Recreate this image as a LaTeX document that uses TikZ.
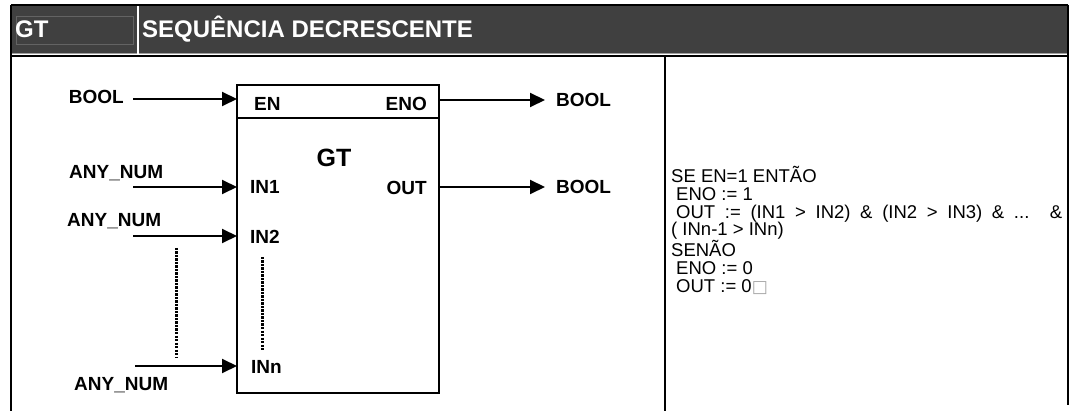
\documentclass[tikz,border=0pt]{standalone}
\usepackage{fontspec}
\setmainfont{Liberation Sans}
\newfontfamily\symbfont{DejaVu Sans}
\usetikzlibrary{arrows.meta}
\definecolor{headgray}{HTML}{404040}

\begin{document}
\begin{tikzpicture}[x=1pt,y=-1pt,>={Triangle[length=15pt,width=14pt]},
    lbl/.style={font=\fontsize{19}{19}\selectfont\bfseries,inner sep=0pt},
    head/.style={white,font=\fontsize{24}{24}\selectfont\bfseries,inner sep=0pt,anchor=base west},
    wire/.style={->,line width=2pt},
    frame/.style={line width=2pt},
    dots/.style={line width=3pt,dash pattern=on 2.2pt off 1.3pt}]
    \useasboundingbox (0,0) rectangle (1075,411);
    % header bar
    \fill[headgray] (11,5) rectangle (1068,54);
    \draw[gray!75,line width=1pt] (11,53.5) -- (1068,53.5);
    \draw[gray!55!headgray,line width=0.7pt] (16,16) rectangle (133,44);
    \draw[white,line width=2pt] (138,5) -- (138,55);
    \node[head] (hname) at (15,38) {GT};
    \node[head] (htitle) at (142,38) {SEQUÊNCIA DECRESCENTE};
    % table lines
    \draw[line width=1.5pt] (11,5) -- (1068,5);
    \draw[frame] (11,56) -- (1068,56);
    \draw[frame] (11,5) -- (11,411);
    \draw[frame] (1068,5) -- (1068,405);
    \draw[frame] (665,56) -- (665,411);
    % the block
    \draw[frame] (237,85) rectangle (439,393);
    \draw[frame] (237,118) -- (439,118);
    \node[lbl,font=\fontsize{25}{25}\selectfont\bfseries,anchor=base] (bname) at (334,167) {GT};
    \node[lbl,anchor=base west] (pen) at (254,111) {EN};
    \node[lbl,anchor=base east] (peno) at (427,111) {ENO};
    \node[lbl,anchor=base west] (pin1) at (250,194) {IN1};
    \node[lbl,anchor=base east] (pout) at (427,195) {OUT};
    \node[lbl,anchor=base west] (pin2) at (250,244) {IN2};
    \node[lbl,anchor=base west] (pinn) at (251,373) {INn};
    % ports on the block
    \coordinate (en) at (237,99);
    \coordinate (in1) at (237,187);
    \coordinate (in2) at (237,236);
    \coordinate (inn) at (237,366);
    \coordinate (eno) at (439,100);
    \coordinate (out) at (439,187);
    % free ends of the wires
    \coordinate (sen) at (133,99);
    \coordinate (sin1) at (133,187);
    \coordinate (sin2) at (133,236);
    \coordinate (sinn) at (135,366);
    \coordinate (deno) at (545,100);
    \coordinate (dout) at (545,187);
    % type labels
    \node[lbl,anchor=base east] (tbool) at (124,104) {BOOL};
    \node[lbl,anchor=base west] (tnum1) at (69,179) {ANY\_NUM};
    \node[lbl,anchor=base west] (tnum2) at (67,227) {ANY\_NUM};
    \node[lbl,anchor=base west] (tnumn) at (74,390) {ANY\_NUM};
    \node[lbl,anchor=base west] (teno) at (556,107) {BOOL};
    \node[lbl,anchor=base west] (tout) at (556,194) {BOOL};
    % wires
    \draw[wire] (sen) -- (en);
    \draw[wire] (sin1) -- (in1);
    \draw[wire] (sin2) -- (in2);
    \draw[wire] (sinn) -- (inn);
    \draw[wire] (eno) -- (deno);
    \draw[wire] (out) -- (dout);
    % more inputs
    \coordinate (dt1) at (176,248);
    \coordinate (db1) at (176,358);
    \coordinate (dt2) at (262,257);
    \coordinate (db2) at (262,350);
    \draw[dots] (dt1) -- (db1);
    \draw[dots] (dt2) -- (db2);
    % description
    \node[anchor=north west,inner sep=0pt,align=left,font=\fontsize{18.5}{17.8}\selectfont] (desc) at (671,166)
      {SE EN=1 ENTÃO\\
       \hspace*{5pt}ENO := 1\\
       \hspace*{5pt}\makebox[386pt][s]{OUT := (IN1 > IN2) \& (IN2 > IN3) \& ... \&}\\
       ( INn-1 > INn)\\
       SENÃO\\
       \hspace*{5pt}ENO := 0\\
       \hspace*{5pt}OUT := 0{\symbfont\color{gray!70}\fontsize{17}{17}\selectfont □}};
\end{tikzpicture}
\end{document}
